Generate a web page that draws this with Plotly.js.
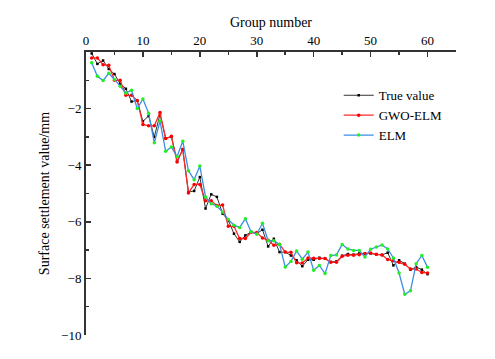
<!DOCTYPE html>
<html>
<head>
<meta charset="utf-8">
<script src="https://cdn.plot.ly/plotly-3.0.1.min.js"></script>
<style>
  body { margin: 0; background: #fff; }
  #chart { width: 495px; height: 359px; }
</style>
</head>
<body>
<div id="chart"></div>
<script>
// group numbers 1..60
const groups = [
  1, 2, 3, 4, 5, 6, 7, 8, 9, 10,
  11, 12, 13, 14, 15, 16, 17, 18, 19, 20,
  21, 22, 23, 24, 25, 26, 27, 28, 29, 30,
  31, 32, 33, 34, 35, 36, 37, 38, 39, 40,
  41, 42, 43, 44, 45, 46, 47, 48, 49, 50,
  51, 52, 53, 54, 55, 56, 57, 58, 59, 60
];

const trueValue = [
  -0.05, -0.42, -0.30, -0.60, -0.78, -1.12, -1.30, -1.75, -1.72, -2.45,
  -2.26, -3.00, -2.20, -3.05, -3.00, -3.85, -3.45, -4.95, -4.91, -4.42,
  -5.53, -5.03, -5.12, -5.71, -5.95, -6.42, -6.71, -6.48, -6.36, -6.42,
  -6.28, -6.87, -6.60, -7.07, -7.07, -7.19, -7.36, -7.57, -7.34, -7.34,
  -7.27, -7.30, -7.42, -7.40, -7.20, -7.14, -7.16, -7.12, -7.12, -7.12,
  -7.15, -7.17, -7.09, -7.54, -7.36, -7.48, -7.69, -7.60, -7.69, -7.85
];

const gwoElm = [
  -0.21, -0.21, -0.45, -0.47, -1.00, -1.00, -1.53, -1.53, -1.71, -2.56,
  -2.61, -2.61, -2.14, -3.06, -2.98, -3.89, -3.44, -4.98, -4.68, -4.68,
  -5.26, -5.26, -5.42, -5.41, -6.16, -6.16, -6.59, -6.59, -6.37, -6.38,
  -6.57, -6.65, -6.83, -6.79, -7.07, -7.08, -7.45, -7.46, -7.28, -7.29,
  -7.30, -7.30, -7.43, -7.43, -7.22, -7.18, -7.18, -7.16, -7.12, -7.10,
  -7.15, -7.17, -7.33, -7.38, -7.43, -7.50, -7.67, -7.67, -7.79, -7.81
];

const elm = [
  -0.38, -0.86, -1.01, -0.75, -0.97, -1.21, -1.45, -1.35, -2.00, -1.66,
  -2.16, -3.21, -2.44, -3.51, -3.36, -3.69, -3.15, -4.20, -4.51, -4.03,
  -5.12, -5.36, -5.45, -5.65, -5.92, -6.12, -6.20, -5.89, -6.35, -6.44,
  -6.05, -6.67, -6.67, -6.80, -7.60, -7.40, -7.03, -7.32, -7.07, -7.71,
  -7.54, -7.83, -7.19, -7.17, -6.80, -6.96, -7.01, -7.01, -7.24, -6.97,
  -6.89, -6.82, -6.96, -7.28, -7.81, -8.56, -8.44, -7.48, -7.19, -7.61
];

const xTicks = [0, 10, 20, 30, 40, 50, 60];
const yTicks = [-2, -4, -6, -8, -10];

const traces = [
  {
    x: groups, y: trueValue, name: 'True value',
    type: 'scatter', mode: 'lines+markers',
    line: {color: '#333333', width: 1},
    marker: {color: '#000000', size: 2.5, symbol: 'square'}
  },
  {
    x: groups, y: gwoElm, name: 'GWO-ELM',
    type: 'scatter', mode: 'lines+markers',
    line: {color: '#ff2828', width: 1.3},
    marker: {color: '#ff0000', size: 3.5}
  },
  {
    x: groups, y: elm, name: 'ELM',
    type: 'scatter', mode: 'lines+markers',
    line: {color: '#3a8ee6', width: 1.3},
    marker: {color: '#22ee22', size: 3.5}
  }
];

const layout = {
  width: 495,
  height: 359,
  margin: {l: 86, r: 39, t: 52, b: 24},
  paper_bgcolor: '#fff',
  plot_bgcolor: '#fff',
  font: {family: '"Liberation Serif", "Times New Roman", serif', size: 13, color: '#000'},
  showlegend: true,
  legend: {
    x: 0.683, y: 0.9, xanchor: 'left', yanchor: 'top',
    bgcolor: 'rgba(0,0,0,0)',
    font: {size: 13},
    tracegroupgap: 0,
    itemwidth: 30
  },
  xaxis: {
    side: 'top',
    range: [0, 65],
    tickvals: xTicks,
    ticks: 'inside',
    ticklen: 5,
    tickwidth: 1.5,
    tickcolor: '#333',
    showline: true,
    linecolor: '#333',
    linewidth: 2,
    showgrid: false,
    zeroline: false,
    minor: {dtick: 5, ticks: 'inside', ticklen: 3, tickcolor: '#333', showgrid: false},
    title: {text: 'Group number', font: {size: 14}, standoff: 2}
  },
  yaxis: {
    range: [-10, 0],
    tickvals: yTicks,
    ticks: 'inside',
    ticklen: 5,
    tickwidth: 1.5,
    tickcolor: '#333',
    showline: true,
    linecolor: '#333',
    linewidth: 2,
    showgrid: false,
    zeroline: false,
    minor: {dtick: 1, ticks: 'inside', ticklen: 3, tickcolor: '#333', showgrid: false},
    title: {text: 'Surface settlement value/mm', font: {size: 14}, standoff: 8}
  }
};

Plotly.newPlot('chart', traces, layout, {displayModeBar: false, staticPlot: true});
</script>
</body>
</html>
